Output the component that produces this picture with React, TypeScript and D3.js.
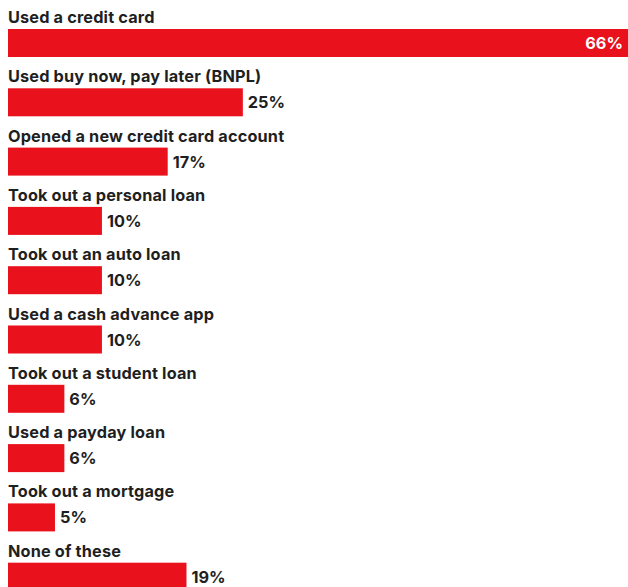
import React from "react";
import * as d3 from "d3";

const categories = [
  "Used a credit card",
  "Used buy now, pay later (BNPL)",
  "Opened a new credit card account",
  "Took out a personal loan",
  "Took out an auto loan",
  "Used a cash advance app",
  "Took out a student loan",
  "Used a payday loan",
  "Took out a mortgage",
  "None of these",
];
const values = [66, 25, 17, 10, 10, 10, 6, 6, 5, 19];

const W = 628;
const H = 587;
const RED = "#e8111c";
const TEXT = "#1f1f1f";
const FONT = "Inter, 'Noto Sans', sans-serif";

export default function App() {
  const x = d3.scaleLinear().domain([0, 66]).range([0, 620]);
  const y = d3
    .scaleBand<number>()
    .domain(d3.range(categories.length))
    .range([0, 593])
    .paddingInner(0)
    .paddingOuter(0);
  const barTop = 29;
  const barH = 28;
  return (
    <svg
      width={W}
      height={H}
      style={{ position: "absolute", left: 0, top: 0, background: "#fff" }}
      fontFamily={FONT}
    >
      {categories.map((c, i) => {
        const y0 = y(i)!;
        const w = x(values[i]);
        const inside = values[i] >= 50;
        return (
          <g key={c}>
            <text
              x={8}
              y={y0 + 23}
              fontSize={16.3}
              fontWeight={650}
              letterSpacing={0.15}
              fill={TEXT}
            >
              {c}
            </text>
            <rect x={8} y={y0 + barTop} width={w} height={barH} fill={RED} />
            <text
              x={inside ? 8 + w - 5 : 8 + w + 5}
              y={y0 + barTop + 20}
              fontSize={16.3}
              fontWeight={650}
              textAnchor={inside ? "end" : "start"}
              fill={inside ? "#fff" : TEXT}
            >
              {values[i]}%
            </text>
          </g>
        );
      })}
    </svg>
  );
}
